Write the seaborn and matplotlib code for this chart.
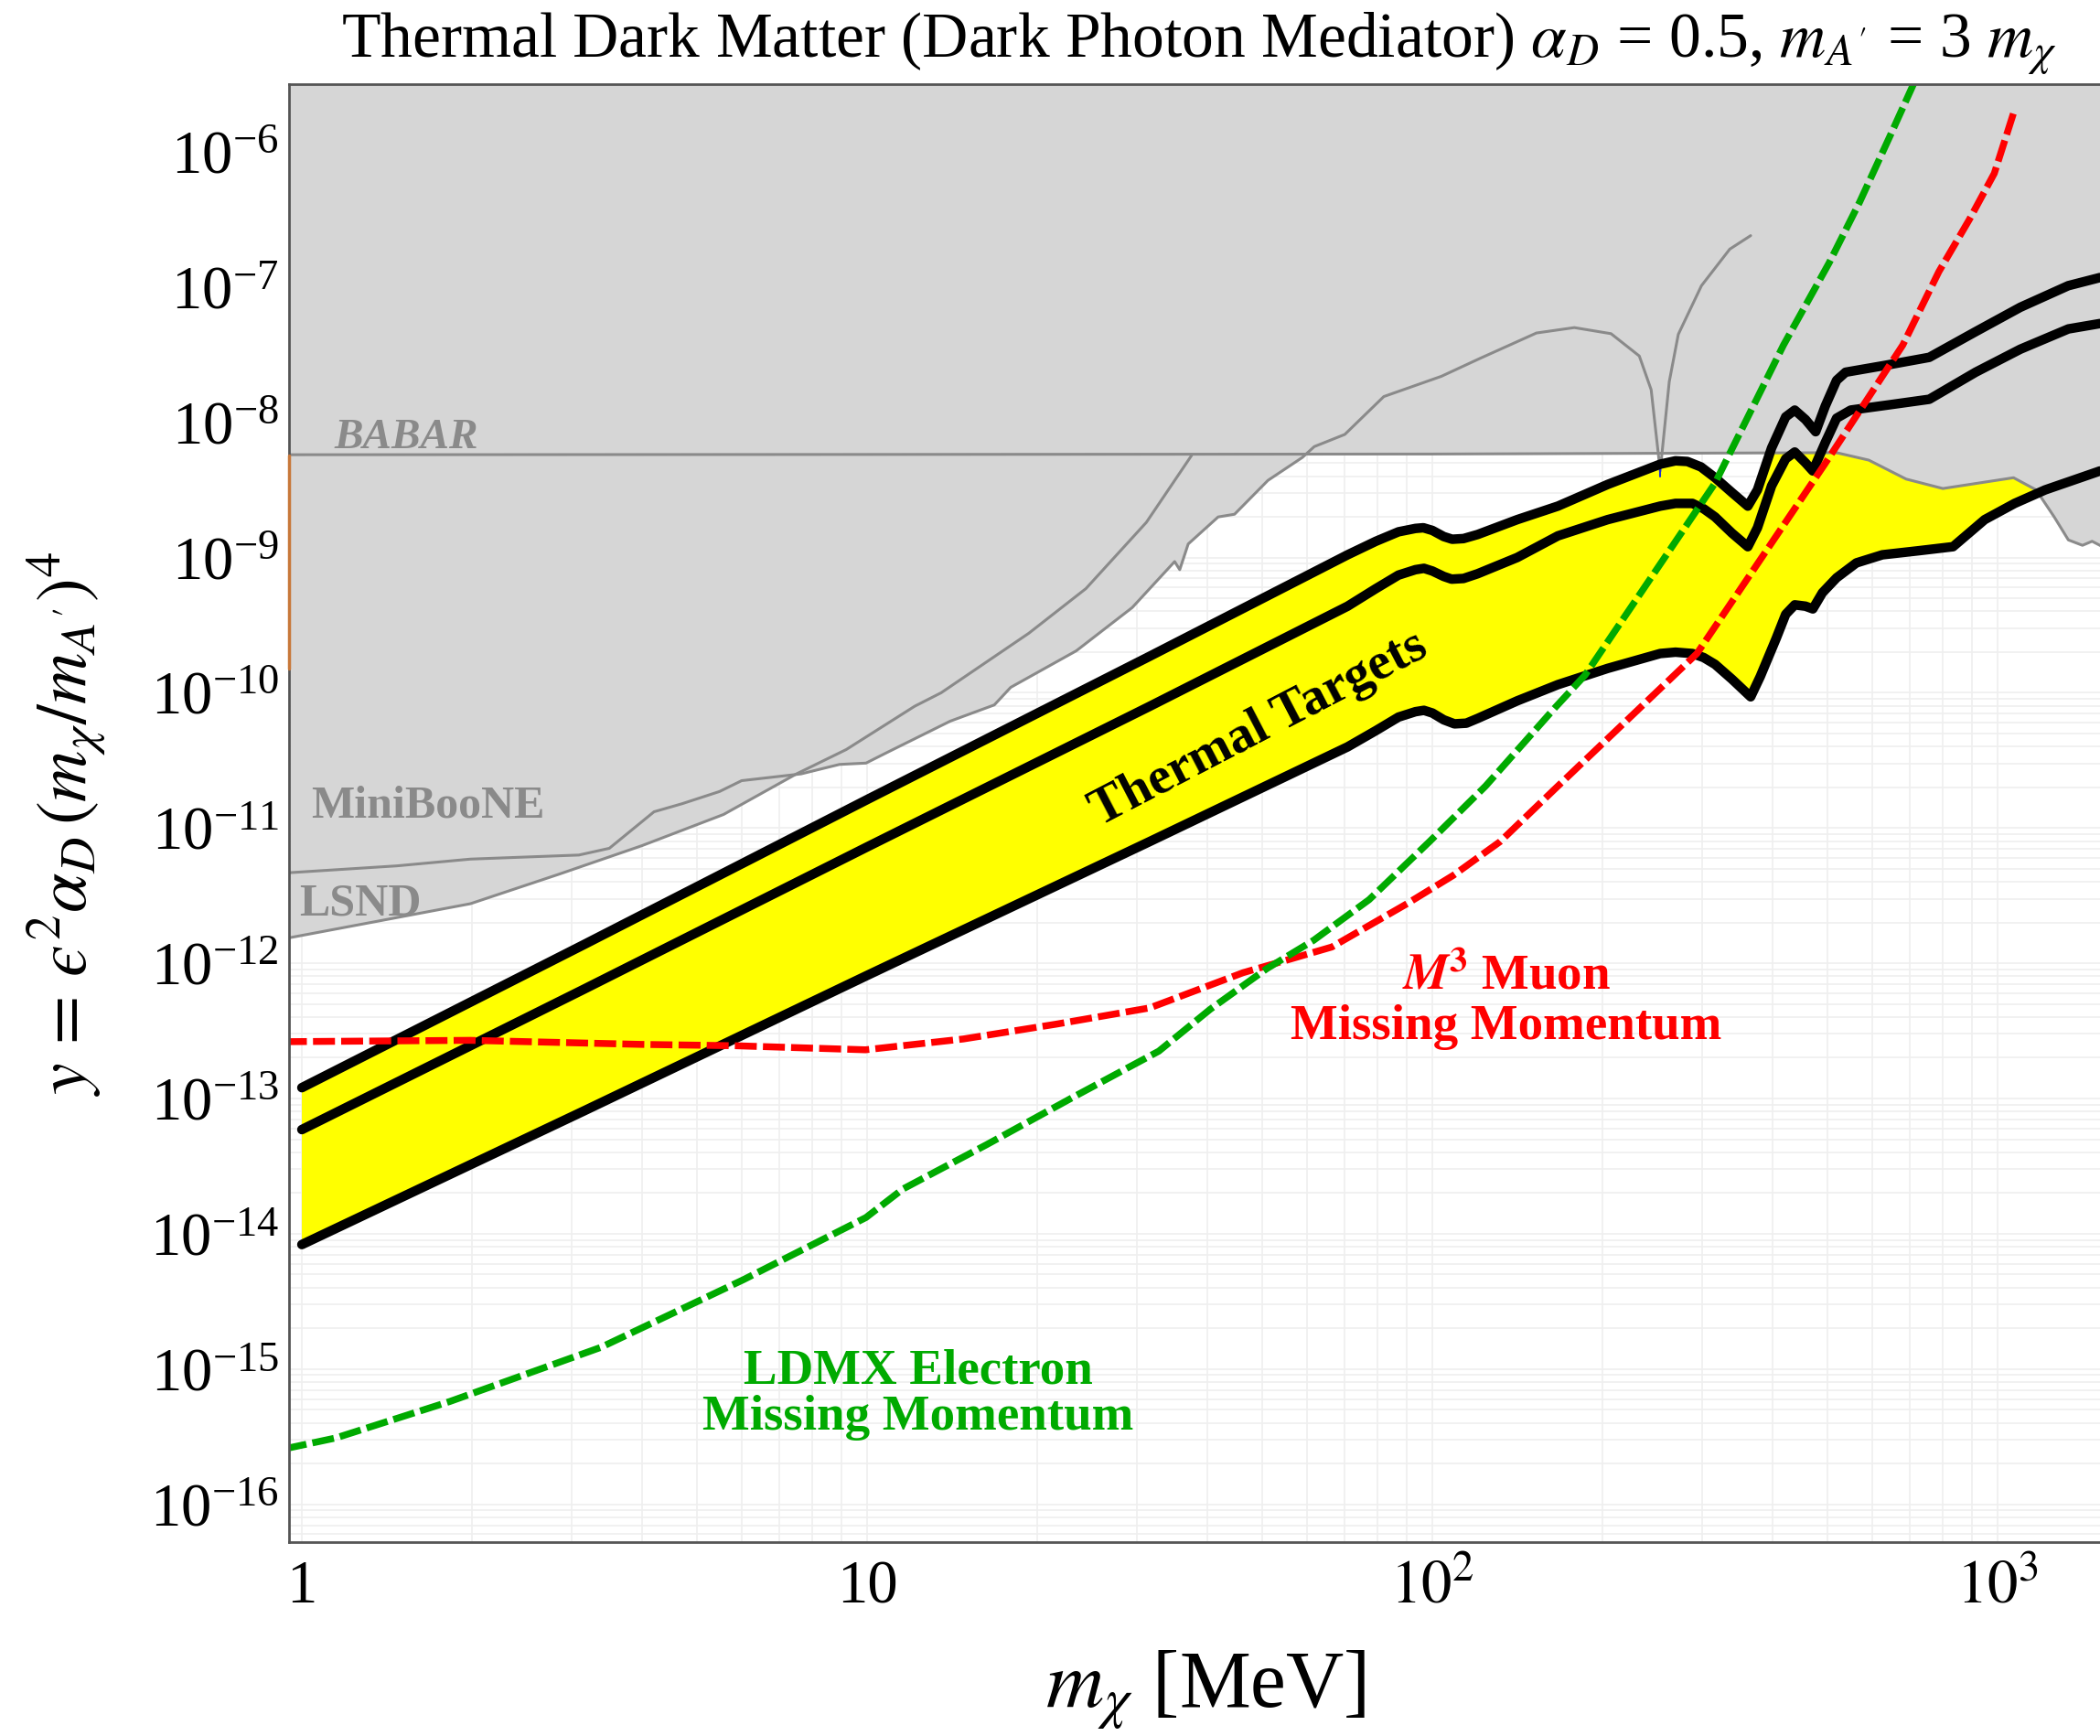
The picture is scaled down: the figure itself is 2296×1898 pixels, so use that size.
import numpy as np
import matplotlib
matplotlib.use("Agg")
import matplotlib.pyplot as plt
import seaborn as sns

# ---------------- data ----------------
# all values are log10(m_chi / MeV) and log10(y)
top_lm = [0, 0.5, 1.0, 1.5, 1.85, 1.90, 1.94, 1.97, 1.984, 2.0, 2.02, 2.035, 2.055, 2.08, 2.15,
          2.222, 2.31, 2.403, 2.43, 2.451, 2.475, 2.50, 2.53, 2.558, 2.575, 2.60, 2.625, 2.641,
          2.66, 2.678, 2.695, 2.715, 2.731, 2.80, 2.879, 2.961, 3.04, 3.125, 3.181]
top_ly = [-12.92, -11.86, -10.79, -9.73, -8.98, -8.88, -8.81, -8.785, -8.78, -8.80, -8.845,
          -8.865, -8.86, -8.83, -8.72, -8.62, -8.46, -8.31, -8.285, -8.29, -8.33, -8.41, -8.52,
          -8.62, -8.50, -8.19, -7.96, -7.91, -7.98, -8.07, -7.88, -7.69, -7.63, -7.58, -7.52,
          -7.33, -7.15, -6.99, -6.93]

mid_lm = [0, 0.5, 1.0, 1.5, 1.85, 1.90, 1.94, 1.97, 1.985, 2.0, 2.02, 2.034, 2.055, 2.08, 2.15,
          2.222, 2.31, 2.403, 2.43, 2.46, 2.48, 2.50, 2.53, 2.558, 2.575, 2.60, 2.625, 2.641,
          2.66, 2.673, 2.695, 2.715, 2.74, 2.81, 2.879, 2.961, 3.04, 3.125, 3.181]
mid_ly = [-13.23, -12.19, -11.14, -10.10, -9.36, -9.23, -9.13, -9.09, -9.08, -9.10, -9.14,
          -9.16, -9.155, -9.12, -9.00, -8.84, -8.72, -8.62, -8.60, -8.60, -8.64, -8.70, -8.82,
          -8.92, -8.78, -8.47, -8.27, -8.22, -8.30, -8.36, -8.15, -7.97, -7.91, -7.87, -7.83,
          -7.63, -7.46, -7.31, -7.27]

bot_lm = [0, 0.5, 1.0, 1.5, 1.85, 1.90, 1.94, 1.97, 1.985, 2.0, 2.02, 2.039, 2.06, 2.08, 2.15,
          2.222, 2.31, 2.403, 2.43, 2.46, 2.48, 2.50, 2.53, 2.563, 2.58, 2.608, 2.625, 2.641,
          2.66, 2.673, 2.69, 2.715, 2.75, 2.796, 2.86, 2.921, 2.977, 3.03, 3.084, 3.181]
bot_ly = [-14.08, -13.09, -12.09, -11.10, -10.40, -10.28, -10.18, -10.14, -10.13, -10.15,
          -10.20, -10.23, -10.225, -10.19, -10.06, -9.94, -9.82, -9.71, -9.70, -9.71, -9.74,
          -9.79, -9.90, -10.03, -9.88, -9.60, -9.42, -9.35, -9.36, -9.38, -9.26, -9.15, -9.04,
          -8.98, -8.95, -8.92, -8.72, -8.60, -8.50, -8.36]

muon_lm = [-0.03, 0.298, 0.6, 0.767, 0.997, 1.17, 1.335, 1.50, 1.665, 1.748, 1.822, 1.955,
           2.037, 2.12, 2.217, 2.468, 2.694, 2.832, 2.896, 2.950, 2.994, 3.031]
muon_ly = [-12.58, -12.57, -12.60, -12.61, -12.64, -12.56, -12.45, -12.33, -12.07, -11.97,
           -11.88, -11.56, -11.35, -11.10, -10.71, -9.71, -8.31, -7.43, -6.886, -6.50, -6.16,
           -5.675]

ldmx_lm = [-0.03, 0.06, 0.262, 0.529, 0.781, 0.998, 1.063, 1.212, 1.369, 1.516, 1.607, 1.707,
           1.79, 1.888, 1.995, 2.094, 2.217, 2.270, 2.50, 2.621, 2.702, 2.756, 2.811, 2.851]
ldmx_ly = [-15.59, -15.51, -15.24, -14.84, -14.34, -13.88, -13.67, -13.34, -12.98, -12.65,
           -12.34, -12.04, -11.83, -11.53, -11.10, -10.69, -10.11, -9.87, -8.45, -7.43, -6.82,
           -6.37, -5.87, -5.50]

lsnd_lm = [-0.02, 0.133, 0.298, 0.456, 0.602, 0.746, 0.875, 0.963, 1.084, 1.131, 1.286, 1.387,
           1.494, 1.574]
lsnd_ly = [-11.81, -11.69, -11.56, -11.34, -11.13, -10.90, -10.60, -10.42, -10.10, -10.0, -9.56,
           -9.23, -8.74, -8.245]

mb_lm = [-0.02, 0.168, 0.298, 0.490, 0.544, 0.623, 0.673, 0.739, 0.778, 0.883, 0.951, 0.998,
         1.036, 1.147, 1.225, 1.254, 1.370, 1.469, 1.544, 1.553, 1.568, 1.621, 1.650, 1.709,
         1.770, 1.791, 1.845, 1.914, 2.016, 2.083, 2.184, 2.251, 2.316, 2.366, 2.387, 2.403,
         2.419, 2.435, 2.476, 2.526, 2.563]
mb_ly = [-11.33, -11.28, -11.23, -11.20, -11.15, -10.88, -10.82, -10.73, -10.65, -10.60, -10.53,
         -10.52, -10.44, -10.21, -10.09, -9.96, -9.69, -9.37, -9.03, -9.09, -8.90, -8.70, -8.68,
         -8.43, -8.26, -8.18, -8.09, -7.81, -7.66, -7.53, -7.34, -7.30, -7.345, -7.51, -7.76,
         -8.36, -7.70, -7.35, -6.99, -6.72, -6.62]
mb_fill_n = 27   # points of the MiniBooNE curve below BABAR that bound the shaded area

babar_lm = [-0.03, 1.0, 2.0, 2.715]
babar_ly = [-8.24, -8.238, -8.235, -8.225]

right_lm = [2.715, 2.772, 2.838, 2.903, 3.028, 3.068, 3.10, 3.125, 3.15, 3.167, 3.19]
right_ly = [-8.225, -8.28, -8.42, -8.49, -8.41, -8.50, -8.70, -8.87, -8.91, -8.88, -8.93]

edge_lm = [-0.0227, -0.0227]     # short orange mark on the left frame
edge_ly = [-8.245, -9.82]
blue_lm = [2.403, 2.403]         # tiny blue tick at the dip
blue_ly = [-8.30, -8.40]

yticks_exp = list(range(-16, -5))
xtick_vals = [1, 10, 100, 1000]
xtick_labels = ["1", "10", r"$10^{2}$", r"$10^{3}$"]

def v(a):
    return 10.0 ** np.asarray(a, dtype=float)

# ---------------- style ----------------
sns.set_theme(style="white")
plt.rcParams["font.family"] = ["Liberation Serif", "DejaVu Serif"]
plt.rcParams["mathtext.fontset"] = "stix"
plt.rcParams["text.color"] = "black"

W, H = 2296, 1898
fig = plt.figure(figsize=(W / 100, H / 100), dpi=100)
ax = fig.add_axes([316 / W, 1 - 1686 / H, (W - 316) / W, (1686 - 92) / H])
ax.set_xscale("log")
ax.set_yscale("log")
xlo, xhi = 10 ** -0.0227, 10 ** 3.181
ylo, yhi = 10 ** -16.28, 10 ** -5.50
ax.set_xlim(xlo, xhi)
ax.set_ylim(ylo, yhi)

GRAY_FILL = "#d6d6d6"
GRAY_LINE = "#8a8a8a"
RED = "#ff0000"
GREEN = "#00aa00"
TOPV = 1e-4

# grid
ax.set_axisbelow(True)
ax.grid(True, which="both", color="#efefef", lw=1.2, zorder=0)

# yellow thermal band
bx, by, tx, ty = v(bot_lm), v(bot_ly), v(top_lm), v(top_ly)
ax.fill(np.concatenate([bx, tx[::-1]]), np.concatenate([by, ty[::-1]]),
        color="#ffff00", lw=0, zorder=1)

# gray excluded regions
lx, ly = v(lsnd_lm), v(lsnd_ly)
ax.fill(np.concatenate([lx, [lx[-1], lx[0]]]), np.concatenate([ly, [TOPV, TOPV]]),
        color=GRAY_FILL, lw=0, zorder=2)
mx, my = v(mb_lm[:mb_fill_n]), v(mb_ly[:mb_fill_n])
ax.fill(np.concatenate([mx, [mx[-1], mx[0]]]), np.concatenate([my, [TOPV, TOPV]]),
        color=GRAY_FILL, lw=0, zorder=2)
gx = np.concatenate([v(babar_lm), v(right_lm)])
gy = np.concatenate([v(babar_ly), v(right_ly)])
ax.fill(np.concatenate([gx, [gx[-1], gx[0]]]), np.concatenate([gy, [TOPV, TOPV]]),
        color=GRAY_FILL, lw=0, zorder=2)

# gray boundary lines
for xs, ys in [(lsnd_lm, lsnd_ly), (mb_lm, mb_ly), (babar_lm, babar_ly), (right_lm, right_ly)]:
    sns.lineplot(x=v(xs), y=v(ys), ax=ax, color=GRAY_LINE, lw=2.2, estimator=None,
                 sort=False, zorder=3)
sns.lineplot(x=v(blue_lm), y=v(blue_ly), ax=ax, color="#2030d0", lw=1.5, estimator=None,
             sort=False, zorder=3)

# thermal target lines
for xs, ys in [(top_lm, top_ly), (mid_lm, mid_ly), (bot_lm, bot_ly)]:
    sns.lineplot(x=v(xs), y=v(ys), ax=ax, color="black", lw=7.5, estimator=None,
                 sort=False, zorder=4, solid_joinstyle="round")

# projections
sns.lineplot(x=v(muon_lm), y=v(muon_ly), ax=ax, color=RED, lw=5.4, estimator=None,
             sort=False, zorder=5, linestyle=(0, (3.2, 0.9)))
sns.lineplot(x=v(ldmx_lm), y=v(ldmx_ly), ax=ax, color=GREEN, lw=5.4, estimator=None,
             sort=False, zorder=5, linestyle=(0, (3.2, 0.9)))

# ---------------- axes cosmetics ----------------
ax.set_yticks(v(yticks_exp))
ax.yaxis.set_minor_locator(matplotlib.ticker.LogLocator(base=10, subs=np.arange(2, 10), numticks=50))
ax.yaxis.set_minor_formatter(matplotlib.ticker.NullFormatter())
ax.set_xticks(xtick_vals)
ax.set_xticklabels(xtick_labels)
ax.xaxis.set_minor_formatter(matplotlib.ticker.NullFormatter())
ax.tick_params(axis="both", which="major", direction="in", color="#444444", width=1.3,
               labelsize=48, length=14, pad=8, labelcolor="black")
ax.tick_params(axis="y", which="minor", length=0)
ax.tick_params(axis="x", which="minor", direction="in", color="#444444", width=1.3, length=14)
ax.tick_params(axis="x", which="major", pad=14)
for s in ["left", "bottom", "top"]:
    ax.spines[s].set_color("#555555")
    ax.spines[s].set_linewidth(2)
    ax.spines[s].set_zorder(6)
ax.spines["right"].set_visible(False)
ax.set_xlabel("")
ax.set_ylabel("")

# orange mark drawn over the left frame
sns.lineplot(x=v(edge_lm), y=v(edge_ly), ax=ax, color="#c8783a", lw=2.5, estimator=None,
             sort=False, zorder=8, clip_on=False)

# ---------------- texts ----------------
fig.text(1311 / W, 1 - 48 / H,
         r"Thermal Dark Matter (Dark Photon Mediator) $\alpha_D$ = 0.5, $m_{A^{\prime}}$ = 3 $m_\chi$",
         ha="center", va="center", fontsize=50, color="black")
fig.text(73 / W, 1 - 900 / H,
         "$y\\,=\\,\N{GREEK LUNATE EPSILON SYMBOL}^2\\alpha_D\\,(m_\\chi/m_{A^{\\prime}})^4$",
         rotation=90, ha="center", va="center", fontsize=56, color="black")
fig.text(1318 / W, 1 - 1848 / H, r"$m_\chi$ [MeV]", ha="center", va="center", fontsize=63,
         color="black")

ax.text(1.14, 10 ** -8.19, "BABAR", color=GRAY_LINE, fontsize=34, fontweight="bold",
        fontstyle="italic", ha="left", va="baseline", zorder=7)
ax.text(1.04, 10 ** -10.84, "MiniBooNE", color=GRAY_LINE, fontsize=36, fontweight="bold",
        ha="left", va="center", zorder=7)
ax.text(0.99, 10 ** -11.56, "LSND", color=GRAY_LINE, fontsize=36, fontweight="bold",
        ha="left", va="center", zorder=7)
ax.text(49.3, 10 ** -10.27, "Thermal Targets", color="black", fontsize=41, fontweight="bold",
        rotation=27.5, rotation_mode="anchor", ha="center", va="center", zorder=7)
ax.text(135, 10 ** -12.105, r"$\mathbfit{M}^{\mathbf{3}}$ Muon", color=RED, fontsize=39.5,
        fontweight="bold", ha="center", va="center", zorder=7)
ax.text(135, 10 ** -12.47, "Missing Momentum", color=RED, fontsize=39.5, fontweight="bold",
        ha="center", va="center", zorder=7)
ax.text(12.3, 10 ** -15.02, "LDMX Electron", color=GREEN, fontsize=39.5, fontweight="bold",
        ha="center", va="center", zorder=7)
ax.text(12.3, 10 ** -15.36, "Missing Momentum", color=GREEN, fontsize=39.5, fontweight="bold",
        ha="center", va="center", zorder=7)

fig.savefig("out.png", dpi=100)
